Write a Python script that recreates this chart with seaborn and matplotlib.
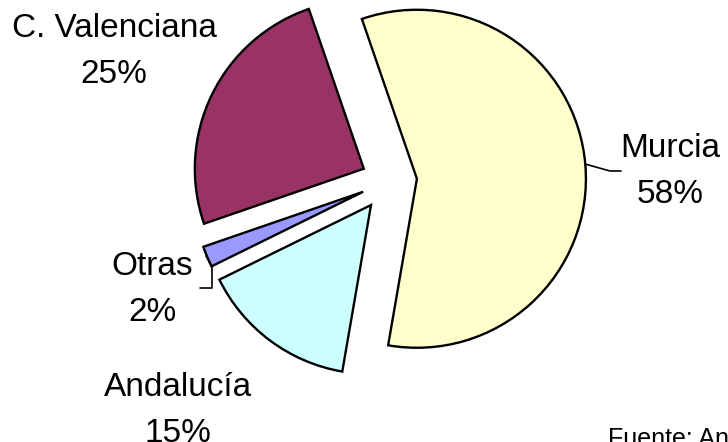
import matplotlib
matplotlib.use("Agg")
import matplotlib.pyplot as plt
import seaborn as sns

regions = ["Murcia", "Andalucía", "Otras", "C. Valenciana"]
shares = [58, 15, 2, 25]
colors = ["#FFFFCC", "#CCFFFF", "#9999FF", "#993366"]
explode = [28, 30, 28, 28]  # pie offsets in pixels (data units here)

# label anchors in pixel coords (center x, baseline of first line)
label_pos = [(670, 157), (178, 396), (152, 275), (114, 37)]

sns.set_theme(style="white")
plt.rcParams['font.family'] = ['Liberation Sans', 'DejaVu Sans']

fig = plt.figure(figsize=(7.28, 4.42), dpi=100)
ax = fig.add_axes([0, 0, 1, 1])

# y axis runs downward, so counterclock=True draws clockwise on screen
ax.pie(shares, explode=explode, colors=colors, startangle=-109,
       counterclock=True, center=(389, 181), radius=169,
       wedgeprops=dict(edgecolor="black", linewidth=1.7))

ax.set_xlim(0, 728)
ax.set_ylim(442, 0)
ax.set_aspect("equal")
ax.axis("off")

for name, val, (x, y) in zip(regions, shares, label_pos):
    ax.text(x, y, name, ha="center", va="baseline", fontsize=24, color="black")
    ax.text(x, y + 46, f"{val}%", ha="center", va="baseline", fontsize=24, color="black")

# leader lines
ax.plot([585, 610, 621], [164, 171, 171], color="black", lw=1.2)
ax.plot([206, 212, 212, 200], [256, 266, 288, 288], color="black", lw=1.2)

ax.text(608, 446, "Fuente: Anuario de Estadística", ha="left", va="baseline",
        fontsize=18, color="black", clip_on=False)

fig.savefig("out.png", dpi=100)
